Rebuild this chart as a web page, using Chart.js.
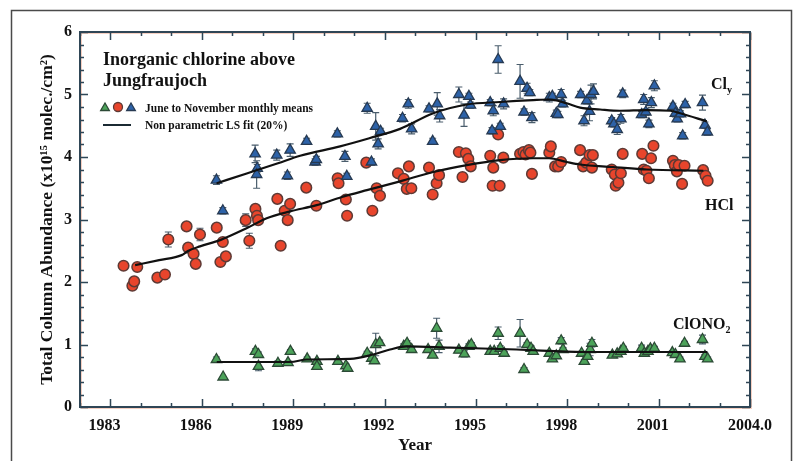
<!DOCTYPE html>
<html>
<head>
<meta charset="utf-8">
<script src="https://cdn.jsdelivr.net/npm/chart.js@4.4.0/dist/chart.umd.min.js"></script>
<style>
  html, body { margin: 0; padding: 0; background: #fff; }
  #wrap { width: 800px; height: 461px; position: relative; }
</style>
</head>
<body>
<div id="wrap"><canvas id="mycanvas" width="800" height="461"></canvas></div>
<script>
// axis ticks
var xTickValues = [1983, 1986, 1989, 1992, 1995, 1998, 2001, 2004];
var xTickLabels = ['1983', '1986', '1989', '1992', '1995', '1998', '2001', '2004.0'];

// HCl monthly means
var hclYear = [1983.43, 1983.72, 1983.78, 1983.88, 1984.54, 1984.79, 1984.90, 1985.50, 1985.55, 1985.73,
  1985.80, 1985.94, 1986.49, 1986.61, 1986.69, 1986.79, 1987.44, 1987.56, 1987.76, 1987.81,
  1987.85, 1988.48, 1988.59, 1988.72, 1988.82, 1988.90, 1989.43, 1989.76, 1990.46, 1990.49,
  1990.73, 1990.77, 1991.40, 1991.60, 1991.74, 1991.85, 1992.44, 1992.63, 1992.73, 1992.80,
  1992.88, 1993.46, 1993.58, 1993.71, 1993.79, 1994.44, 1994.56, 1994.67, 1994.75, 1994.83,
  1995.47, 1995.57, 1995.55, 1995.73, 1995.78, 1995.90, 1996.45, 1996.56, 1996.63, 1996.74,
  1996.79, 1996.84, 1997.41, 1997.46, 1997.60, 1997.70, 1997.80, 1998.42, 1998.52, 1998.62,
  1998.73, 1998.81, 1998.84, 1999.46, 1999.56, 1999.59, 1999.68, 1999.76, 1999.82, 2000.46,
  2000.51, 2000.60, 2000.68, 2000.75, 2000.83, 2001.47, 2001.53, 2001.60, 2001.66, 2001.77,
  2001.85, 2002.46, 2002.54, 2002.61];
var hclVal = [2.26, 1.94, 2.01, 2.24, 2.07, 2.12, 2.68, 2.89, 2.55, 2.45,
  2.29, 2.76, 2.87, 2.32, 2.64, 2.41, 2.99, 2.66, 3.17, 3.06,
  2.99, 3.33, 2.58, 3.14, 2.99, 3.25, 3.51, 3.22, 3.66, 3.58,
  3.32, 3.06, 3.91, 3.14, 3.50, 3.38, 3.74, 3.65, 3.49, 3.85,
  3.50, 3.83, 3.40, 3.58, 3.71, 4.08, 3.68, 4.06, 3.97, 3.85,
  4.02, 3.83, 3.54, 4.36, 3.54, 3.99, 4.05, 4.08, 4.04, 4.11,
  4.07, 3.73, 4.07, 4.17, 3.85, 3.85, 3.92, 4.11, 3.85, 3.91,
  4.03, 3.83, 4.03, 3.80, 3.72, 3.54, 3.59, 3.74, 4.05, 4.05,
  3.80, 3.78, 3.66, 3.98, 4.18, 3.94, 3.87, 3.77, 3.87, 3.57,
  3.86, 3.79, 3.70, 3.62];
var hclErr = [0, 0, 0, 0, 0, 0, 0.12, 0, 0, 0,
  0, 0.1, 0, 0, 0, 0, 0.1, 0.12, 0.05, 0,
  0, 0, 0.05, 0, 0, 0, 0, 0, 0, 0.05,
  0, 0, 0, 0, 0, 0, 0, 0, 0, 0,
  0, 0, 0, 0, 0, 0, 0, 0, 0, 0,
  0, 0, 0, 0, 0, 0, 0, 0, 0, 0,
  0, 0, 0, 0, 0, 0, 0, 0, 0, 0,
  0, 0, 0, 0, 0, 0, 0, 0, 0, 0,
  0, 0, 0, 0, 0, 0, 0, 0, 0, 0,
  0, 0, 0, 0];

// Cly monthly means
var clyYear = [1986.48, 1986.69, 1987.75, 1987.82, 1987.80, 1988.46, 1988.81, 1988.90, 1989.44, 1989.72,
  1989.76, 1990.45, 1990.70, 1990.76, 1991.43, 1991.57, 1991.71, 1991.79, 1991.87, 1992.59,
  1992.78, 1992.89, 1993.46, 1993.58, 1993.73, 1993.81, 1994.44, 1994.61, 1994.77, 1994.82,
  1995.47, 1995.57, 1995.53, 1995.73, 1995.80, 1995.91, 1996.45, 1996.58, 1996.68, 1996.77,
  1996.84, 1997.41, 1997.51, 1997.64, 1997.69, 1997.80, 1997.85, 1998.44, 1998.55, 1998.64,
  1998.73, 1998.78, 1998.86, 1999.46, 1999.53, 1999.64, 1999.76, 1999.82, 2000.44, 2000.51,
  2000.58, 2000.68, 2000.76, 2000.86, 2001.47, 2001.55, 2001.61, 2001.72, 2001.79, 2001.87,
  2002.44, 2002.52, 2002.60];
var clyVal = [3.63, 3.14, 4.05, 3.82, 3.72, 4.03, 3.70, 4.11, 4.25, 3.92,
  3.96, 4.37, 4.01, 3.69, 4.78, 3.92, 4.49, 4.21, 4.41, 4.62,
  4.85, 4.45, 4.77, 4.25, 4.85, 4.66, 5.00, 4.67, 4.97, 4.83,
  4.87, 4.74, 4.42, 5.56, 4.49, 4.85, 5.21, 4.72, 5.10, 5.03,
  4.63, 4.95, 4.97, 4.70, 4.68, 5.00, 4.85, 5.00, 4.58, 4.90,
  4.73, 5.00, 5.05, 4.58, 4.53, 4.44, 4.61, 5.01, 4.68, 4.92,
  4.72, 4.53, 4.87, 5.14, 4.81, 4.70, 4.61, 4.69, 4.34, 4.84,
  4.87, 4.51, 4.40];
var clyErr = [0.07, 0.05, 0.14, 0.06, 0.22, 0.08, 0.06, 0.1, 0.05, 0.05,
  0.05, 0.05, 0.08, 0.05, 0.08, 0.05, 0.22, 0.08, 0.05, 0.06,
  0.07, 0.08, 0.05, 0.05, 0.18, 0.1, 0.12, 0.18, 0.05, 0.05,
  0.05, 0.08, 0.05, 0.22, 0.05, 0.08, 0.27, 0.05, 0.08, 0.05,
  0.08, 0.07, 0.05, 0.05, 0.05, 0.08, 0.05, 0.05, 0.08, 0.05,
  0.15, 0.15, 0.12, 0.05, 0.05, 0.08, 0.07, 0.06, 0.05, 0.08,
  0.05, 0.06, 0.08, 0.08, 0.05, 0.06, 0.05, 0.05, 0.05, 0.05,
  0.12, 0.05, 0.05];

// ClONO2 monthly means
var clono2Year = [1986.48, 1986.70, 1987.76, 1987.86, 1987.86, 1988.50, 1988.83, 1988.91, 1989.46, 1989.78,
  1989.78, 1990.47, 1990.73, 1990.79, 1991.43, 1991.58, 1991.67, 1991.71, 1991.84, 1992.63,
  1992.74, 1992.89, 1993.43, 1993.58, 1993.71, 1993.79, 1994.44, 1994.62, 1994.77, 1994.85,
  1995.47, 1995.60, 1995.73, 1995.80, 1995.93, 1996.45, 1996.58, 1996.68, 1996.81, 1996.88,
  1997.41, 1997.51, 1997.64, 1997.80, 1997.86, 1998.47, 1998.56, 1998.67, 1998.75, 1998.81,
  1999.48, 1999.64, 1999.76, 1999.84, 2000.44, 2000.53, 2000.65, 2000.73, 2000.86, 2001.45,
  2001.55, 2001.70, 2001.85, 2002.44, 2002.52, 2002.61];
var clono2Val = [0.76, 0.48, 0.89, 0.84, 0.65, 0.70, 0.71, 0.89, 0.77, 0.73,
  0.65, 0.73, 0.66, 0.62, 0.86, 0.78, 0.74, 1.00, 1.03, 0.97,
  1.02, 0.92, 0.92, 0.83, 1.26, 0.97, 0.91, 0.85, 0.97, 1.00,
  0.89, 0.89, 1.18, 0.94, 0.86, 1.18, 0.60, 1.00, 0.94, 0.89,
  0.86, 0.77, 0.82, 1.06, 0.92, 0.86, 0.73, 0.81, 0.92, 1.02,
  0.83, 0.85, 0.89, 0.94, 0.94, 0.86, 0.89, 0.93, 0.94, 0.87,
  0.84, 0.77, 1.02, 1.08, 0.81, 0.77];
var clono2Err = [0.04, 0, 0.04, 0.04, 0.07, 0.04, 0.03, 0.03, 0.03, 0.03,
  0.03, 0, 0.03, 0, 0.03, 0.04, 0.03, 0.18, 0.04, 0.04,
  0.04, 0.03, 0.04, 0.03, 0.16, 0.1, 0.04, 0.05, 0.04, 0.03,
  0.03, 0.03, 0.1, 0.04, 0.03, 0.22, 0.03, 0.03, 0.04, 0.03,
  0.03, 0.03, 0.03, 0.05, 0.03, 0.03, 0.03, 0.03, 0.1, 0.06,
  0.03, 0.03, 0.03, 0.03, 0.05, 0.03, 0.03, 0.03, 0.03, 0.03,
  0.03, 0.03, 0.03, 0.07, 0.03, 0.03];

// non parametric LS fits (20%)
var clyFitYear = [1986.49, 1987.5, 1988.5, 1989.23, 1990.54, 1991.5, 1992.51, 1993.6, 1994.7, 1995.79,
  1996.88, 1997.43, 1997.98, 1998.42, 1999.08, 1999.73, 2000.61, 2001.38, 2001.71, 2002.58];
var clyFit = [3.58, 3.74, 3.90, 4.02, 4.17, 4.30, 4.45, 4.70, 4.84, 4.88,
  4.91, 4.92, 4.86, 4.79, 4.76, 4.74, 4.75, 4.74, 4.70, 4.57];
var hclFitYear = [1983.81, 1984.6, 1985.34, 1985.56, 1985.94, 1986.6, 1987.47, 1988.13, 1988.9, 1989.77,
  1990.6, 1991.42, 1992.51, 1993.6, 1994.7, 1995.79, 1996.88, 1997.4, 1997.98, 1998.42,
  1999.51, 2000.61, 2002.47];
var hclFit = [2.27, 2.35, 2.43, 2.50, 2.57, 2.67, 2.86, 3.02, 3.13, 3.23,
  3.36, 3.47, 3.61, 3.76, 3.87, 3.95, 3.98, 3.98, 3.92, 3.88,
  3.84, 3.80, 3.78];
var clono2FitYear = [1986.49, 1988.9, 1989.45, 1990.87, 1991.63, 1992.18, 1992.73, 1994.15, 1996.34, 1998.53,
  2000.72, 2002.6];
var clono2Fit = [0.72, 0.72, 0.76, 0.77, 0.84, 0.92, 0.97, 0.95, 0.92, 0.88,
  0.88, 0.88];

function pts(xs, ys) {
  var out = [];
  for (var i in xs) out.push({x: xs[i], y: ys[i]});
  return out;
}

var serif = '"Liberation Serif", "Times New Roman", serif';
var axisColor = '#2f4656';
var redFill = '#e8452c', redEdge = '#5e3a35';
var blueFill = '#2d62a8', blueEdge = '#273a52';
var greenFill = '#4ca35a', greenEdge = '#2c4a36';

function drawMarker(ctx, style, x, y, r, fill, edge) {
  ctx.save();
  ctx.fillStyle = fill; ctx.strokeStyle = edge; ctx.lineWidth = 1.3;
  ctx.beginPath();
  if (style === 'circle') {
    ctx.arc(x, y, r, 0, Math.PI * 2);
  } else {
    ctx.moveTo(x, y - r);
    ctx.lineTo(x + r * 0.866, y + r * 0.5);
    ctx.lineTo(x - r * 0.866, y + r * 0.5);
    ctx.closePath();
  }
  ctx.fill(); ctx.stroke();
  ctx.restore();
}

var figurePlugin = {
  id: 'figure',
  beforeDatasetsDraw: function (chart) {
    // error bars under the markers
    var ctx = chart.ctx, xs = chart.scales.x, ys = chart.scales.y;
    ctx.save();
    ctx.strokeStyle = '#4a5d6c';
    ctx.lineWidth = 1.2;
    chart.data.datasets.forEach(function (ds) {
      if (!ds.err) return;
      ds.data.forEach(function (p, i) {
        var e = ds.err[i];
        if (!e) return;
        var px = xs.getPixelForValue(p.x);
        var y1 = ys.getPixelForValue(p.y + e), y2 = ys.getPixelForValue(p.y - e);
        ctx.beginPath();
        ctx.moveTo(px, y1); ctx.lineTo(px, y2);
        ctx.moveTo(px - 3.5, y1); ctx.lineTo(px + 3.5, y1);
        ctx.moveTo(px - 3.5, y2); ctx.lineTo(px + 3.5, y2);
        ctx.stroke();
      });
    });
    ctx.restore();
  },
  afterDraw: function (chart) {
    var ctx = chart.ctx, a = chart.chartArea, xs = chart.scales.x, ys = chart.scales.y;
    ctx.save();
    // outer frame of the figure
    ctx.strokeStyle = '#4a4a4a';
    ctx.lineWidth = 1.5;
    ctx.strokeRect(11.5, 10.5, 780, 480);

    // plot box with faint orange fringe
    ctx.strokeStyle = 'rgba(235,150,120,0.45)';
    ctx.lineWidth = 1;
    ctx.strokeRect(a.left + 1.5, a.top + 1.5, a.right - a.left, a.bottom - a.top);
    ctx.strokeStyle = axisColor;
    ctx.lineWidth = 2;
    ctx.strokeRect(a.left, a.top, a.right - a.left, a.bottom - a.top);

    // inward ticks
    ctx.lineWidth = 1.5;
    ctx.beginPath();
    for (var yr = 1982; yr <= 2004; yr++) {
      var px = Math.round(xs.getPixelForValue(yr)) + 0.5;
      var len = xTickValues.indexOf(yr) >= 0 ? 8 : 4;
      ctx.moveTo(px, a.bottom); ctx.lineTo(px, a.bottom - len);
      ctx.moveTo(px, a.top); ctx.lineTo(px, a.top + len);
    }
    for (var k = 0; k <= 30; k++) {
      var v = k / 5;
      var py = Math.round(ys.getPixelForValue(v)) + 0.5;
      var l2 = (k % 5 === 0) ? 8 : 4;
      ctx.moveTo(a.left, py); ctx.lineTo(a.left + l2, py);
      ctx.moveTo(a.right, py); ctx.lineTo(a.right - l2, py);
    }
    ctx.stroke();

    // title inside plot
    ctx.fillStyle = '#111';
    ctx.textBaseline = 'alphabetic';
    ctx.textAlign = 'left';
    ctx.font = 'bold 18px ' + serif;
    ctx.fillText('Inorganic chlorine above', a.left + 23, a.top + 33);
    ctx.fillText('Jungfraujoch', a.left + 23, a.top + 54);

    // legend
    var ly = a.top + 76;
    drawMarker(ctx, 'triangle', a.left + 25, ly, 5, greenFill, greenEdge);
    drawMarker(ctx, 'circle', a.left + 38, ly - 1, 4.5, redFill, redEdge);
    drawMarker(ctx, 'triangle', a.left + 51, ly, 5, blueFill, blueEdge);
    ctx.fillStyle = '#111';
    ctx.font = 'bold 11.5px ' + serif;
    ctx.fillText('June to November monthly means', a.left + 65, ly + 4);
    ctx.strokeStyle = '#1b2a33';
    ctx.lineWidth = 2;
    ctx.beginPath();
    ctx.moveTo(a.left + 23, ly + 17); ctx.lineTo(a.left + 51, ly + 17);
    ctx.stroke();
    ctx.fillText('Non parametric LS fit (20%)', a.left + 65, ly + 21);

    // species labels
    ctx.font = 'bold 16px ' + serif;
    ctx.fillText('Cl', 711, 89);
    ctx.font = 'bold 10px ' + serif;
    ctx.fillText('y', 727, 93);
    ctx.font = 'bold 16px ' + serif;
    ctx.fillText('HCl', 705, 210);
    ctx.fillText('ClONO', 673, 329);
    var w = ctx.measureText('ClONO').width;
    ctx.font = 'bold 10px ' + serif;
    ctx.fillText('2', 673 + w, 333);
    ctx.restore();
  }
};

var tickFont = {family: serif, size: 16, weight: 'bold'};

function fitLine(xs, ys) {
  return {type: 'line', data: pts(xs, ys), borderColor: '#111', borderWidth: 2.2, pointRadius: 0,
    fill: false, cubicInterpolationMode: 'monotone', order: 0};
}

var chartdata = {
  datasets: [
    fitLine(clyFitYear, clyFit),
    fitLine(hclFitYear, hclFit),
    fitLine(clono2FitYear, clono2Fit),
    {type: 'scatter', label: 'Cly', data: pts(clyYear, clyVal), err: clyErr, pointStyle: 'triangle', pointRadius: 6,
      backgroundColor: blueFill, borderColor: blueEdge, borderWidth: 1.3, order: 1},
    {type: 'scatter', label: 'HCl', data: pts(hclYear, hclVal), err: hclErr, pointStyle: 'circle', pointRadius: 5.3,
      backgroundColor: redFill, borderColor: redEdge, borderWidth: 1.5, order: 1},
    {type: 'scatter', label: 'ClONO2', data: pts(clono2Year, clono2Val), err: clono2Err, pointStyle: 'triangle', pointRadius: 6,
      backgroundColor: greenFill, borderColor: greenEdge, borderWidth: 1.3, order: 1}
  ]
};

var ctx = document.getElementById('mycanvas');
var graph = new Chart(ctx, {
  type: 'scatter',
  data: chartdata,
  options: {
    responsive: false,
    animation: false,
    layout: {padding: {left: 0, right: 50, top: 32, bottom: 0}},
    plugins: {legend: {display: false}, tooltip: {enabled: false}},
    scales: {
      x: {
        type: 'linear', min: 1982, max: 2004,
        afterBuildTicks: function (s) { s.ticks = xTickValues.map(function (v) { return {value: v}; }); },
        afterFit: function (s) { s.height = 54; },
        grid: {display: false, drawTicks: false},
        border: {display: false},
        ticks: {
          callback: function (v, i) { return xTickLabels[i] === '2004.0' ? '2004.0' : xTickLabels[i] + '\u2008\u2007'; },
          font: tickFont, color: '#111', padding: 9, maxRotation: 0, autoSkip: false
        },
        title: {display: true, text: 'Year', font: {family: serif, size: 17, weight: 'bold'}, color: '#111', padding: {top: 0, bottom: 5}}
      },
      y: {
        min: 0, max: 6,
        afterFit: function (s) { s.width = 80; },
        grid: {display: false, drawTicks: false},
        border: {display: false},
        ticks: {stepSize: 1, font: tickFont, color: '#111', padding: 8},
        title: {display: true, text: 'Total Column Abundance (x10\u00b9\u2075 molec./cm\u00b2)',
          font: {family: serif, size: 17.5, weight: 'bold'}, color: '#111', padding: {top: 37, bottom: 0}}
      }
    }
  },
  plugins: [figurePlugin]
});
</script>
</body>
</html>
